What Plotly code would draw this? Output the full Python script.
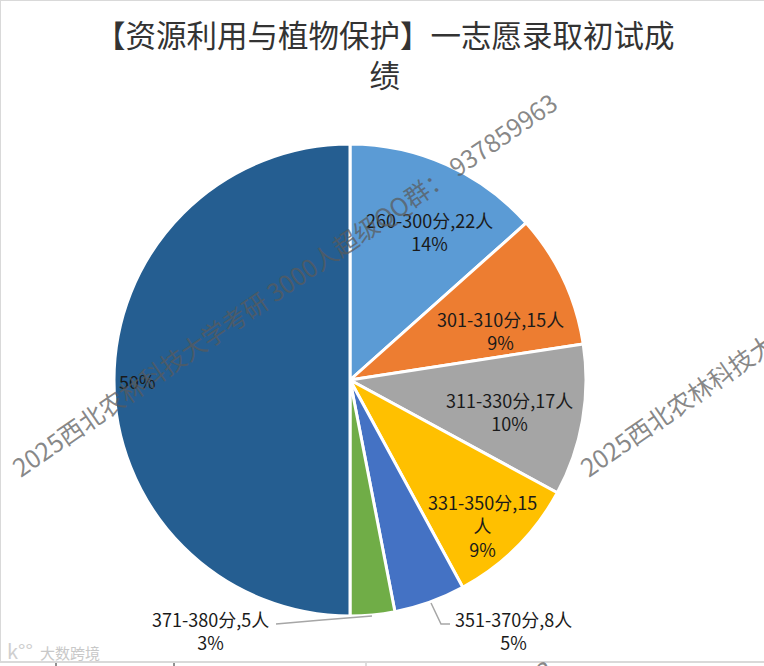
import plotly.graph_objects as go

W = 764
H = 666

title_text = "【资源利用与植物保护】一志愿录取初试成<br>绩"
score_bands = ["260-300分", "301-310分", "311-330分", "331-350分", "351-370分", "371-380分", "其他"]
people = [22, 15, 17, 15, 8, 5, 82]
slice_colors = ["#5B9BD5", "#ED7D31", "#A5A5A5", "#FFC000", "#4472C4", "#70AD47", "#255E91"]

label_text = [
    "260-300分,22人<br>14%",
    "301-310分,15人<br>9%",
    "311-330分,17人<br>10%",
    "331-350分,15<br>人<br>9%",
    "351-370分,8人<br>5%",
    "371-380分,5人<br>3%",
    "50%",
]
# label centres in pixels
label_x = [429, 500, 510, 482, 513, 210, 137]
label_y = [232, 330, 411, 525, 630, 630, 381]

watermark = "2025西北农林科技大学考研 3000人超级QQ群： 937859963"
FONT = "Noto Sans CJK SC"


def px(x):
    return x / W


def py(y):
    return 1 - y / H


fig = go.Figure(go.Pie(
    labels=score_bands,
    values=people,
    sort=False,
    direction="clockwise",
    rotation=0,
    textinfo="none",
    marker=dict(colors=slice_colors, line=dict(color="white", width=3)),
    domain=dict(x=[px(350 - 236), px(350 + 236)], y=[py(616), py(144)]),
    showlegend=False,
))

annotations = []
for t, x, y in zip(label_text, label_x, label_y):
    annotations.append(dict(text=t, x=px(x), y=py(y), xref="paper", yref="paper",
                            showarrow=False, xanchor="center", yanchor="middle",
                            font=dict(family=FONT, size=18, color="#1a1a1a")))

annotations.append(dict(text=title_text, x=px(385), y=py(54), xref="paper", yref="paper",
                        showarrow=False, xanchor="center", yanchor="middle",
                        font=dict(family=FONT, size=30.5, color="#333333")))

# diagonal watermarks
for x, y in [(283.5, 284), (851.5, 284)]:
    annotations.append(dict(text=watermark, x=px(x), y=py(y), xref="paper", yref="paper",
                            showarrow=False, textangle=-34.5, xanchor="center", yanchor="middle",
                            font=dict(family=FONT, size=24.8, color="rgba(90,90,90,0.72)")))
# top of the next watermark row, just showing at the bottom edge
annotations.append(dict(text="3", x=px(544), y=py(669), xref="paper", yref="paper",
                        showarrow=False, textangle=-34.5, xanchor="center", yanchor="middle",
                        font=dict(family=FONT, size=24.8, color="rgba(90,90,90,0.72)")))

# logo in the corner
annotations.append(dict(text="k°°", x=px(20), y=py(650), xref="paper", yref="paper",
                        showarrow=False, xanchor="center", yanchor="middle",
                        font=dict(family=FONT, size=20, color="#cfcfcf")))
annotations.append(dict(text="大数跨境", x=px(70), y=py(652), xref="paper", yref="paper",
                        showarrow=False, xanchor="center", yanchor="middle",
                        font=dict(family=FONT, size=15, color="#c8c8c8")))

shapes = [
    # frame of the chart
    dict(type="rect", xref="paper", yref="paper", x0=px(0), x1=px(770), y0=py(662), y1=py(0),
         line=dict(color="#d9d9d9", width=2)),
    # leader lines
    dict(type="path", xref="paper", yref="paper",
         path=f"M {px(431)} {py(603)} L {px(441)} {py(624)} L {px(450)} {py(624)}",
         line=dict(color="#a6a6a6", width=1.5)),
    dict(type="path", xref="paper", yref="paper",
         path=f"M {px(276)} {py(624)} L {px(322)} {py(620)} L {px(372)} {py(616)}",
         line=dict(color="#a6a6a6", width=1.5)),
    # bits of the next sheet row below the frame
    dict(type="line", xref="paper", yref="paper", x0=px(56), x1=px(56), y0=py(666), y1=py(663),
         line=dict(color="#222222", width=1)),
    dict(type="line", xref="paper", yref="paper", x0=px(174), x1=px(174), y0=py(666), y1=py(663),
         line=dict(color="#222222", width=1)),
    dict(type="line", xref="paper", yref="paper", x0=px(366), x1=px(366), y0=py(666), y1=py(663),
         line=dict(color="#bbbbbb", width=1)),
]

fig.update_layout(
    width=W, height=H,
    margin=dict(l=0, r=0, t=0, b=0),
    paper_bgcolor="white",
    annotations=annotations,
    shapes=shapes,
    font=dict(family=FONT),
)

fig.write_html("out.html", config={"displayModeBar": False},
               post_script="document.body.style.margin='0';")
